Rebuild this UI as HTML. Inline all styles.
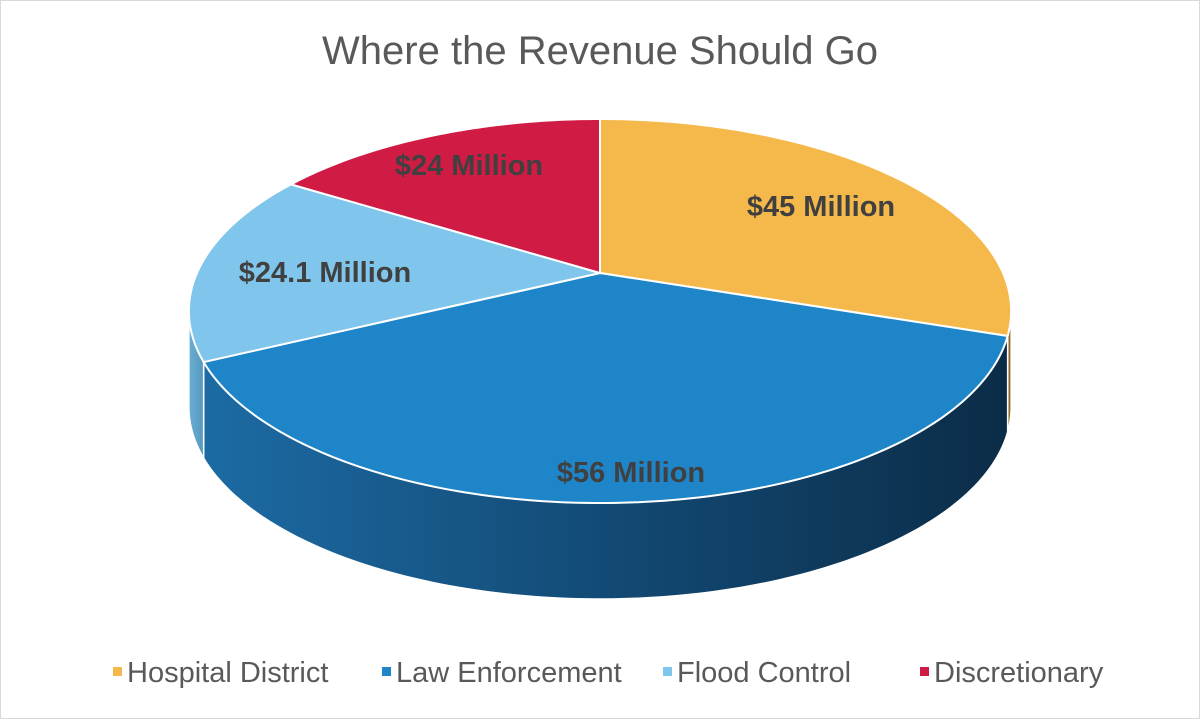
<!DOCTYPE html>
<html><head><meta charset="utf-8"><style>
body{margin:0;background:#fff;}
#c{position:absolute;left:0;top:0;width:1198px;height:717px;border:1px solid #d9d9d9;background:#fff;}
svg{position:absolute;left:0;top:0;}
</style></head><body>
<div id="c">
<svg id="s" width="1200" height="719">
<defs>
<linearGradient id="gLaw" x1="200" x2="1010" y1="0" y2="0" gradientUnits="userSpaceOnUse">
<stop offset="0" stop-color="#1c6ba4"/><stop offset="0.5" stop-color="#134a75"/><stop offset="1" stop-color="#0b2c47"/></linearGradient>
<linearGradient id="gFlood" x1="188" x2="210" y1="0" y2="0" gradientUnits="userSpaceOnUse">
<stop offset="0" stop-color="#6aaed3"/><stop offset="1" stop-color="#4d8db3"/></linearGradient>
<linearGradient id="gHosp" x1="995" x2="1010" y1="0" y2="0" gradientUnits="userSpaceOnUse">
<stop offset="0" stop-color="#b78a36"/><stop offset="1" stop-color="#8a6626"/></linearGradient>
</defs>
<text x="599" y="63" text-anchor="middle" font-family="Liberation Sans, sans-serif" font-size="40" fill="#595959">Where the Revenue Should Go</text>
<g id="pie"></g>
<g id="legend"></g>
</svg>
</div>
<script>
const categories=["Hospital District","Law Enforcement","Flood Control","Discretionary"];
const values=[45,56,24.1,24];
const labels=["$45 Million","$56 Million","$24.1 Million","$24 Million"];
const colors=["#f5b94b","#1e86c8","#80c5ec","#d01b45"];
const sides=["url(#gHosp)","url(#gLaw)","url(#gFlood)","#8a1030"];
const NS="http://www.w3.org/2000/svg";
const cx=599,cy=272,A=403,B=184.5,E=0.198,depth=96;
function pt(t){const r=t*Math.PI/180;const X=Math.sin(r),Y=Math.cos(r);const w=1+E*Y;return [cx+A*X/w, cy-B*Y/w];}
const total=values.reduce((a,b)=>a+b,0);
const pie=document.getElementById('pie');
let cum=0;const angs=[];
values.forEach(v=>{const a0=cum/total*360;cum+=v;angs.push([a0,cum/total*360]);});
const sil=Math.acos(-E)*180/Math.PI;
angs.forEach(([a0,a1],i)=>{
  const s=Math.max(a0,sil),e=Math.min(a1,360-sil);
  if(e<=s)return;
  let top=[],bot=[];
  for(let t=s;t<=e+0.001;t+=1){const p=pt(Math.min(t,e));top.push(p);bot.push([p[0],p[1]+depth]);}
  const pe=pt(e);top.push(pe);bot.push([pe[0],pe[1]+depth]);
  const d="M"+top.map(p=>p.join(",")).join("L")+"L"+bot.reverse().map(p=>p.join(",")).join("L")+"Z";
  const el=document.createElementNS(NS,'path');
  el.setAttribute('d',d);el.setAttribute('fill',sides[i]);el.setAttribute('stroke','#fff');el.setAttribute('stroke-width','1.5');
  
  
  pie.appendChild(el);
});
angs.forEach(([a0,a1],i)=>{
  let pts=[];
  for(let t=a0;t<=a1+0.001;t+=1)pts.push(pt(Math.min(t,a1)));
  pts.push(pt(a1));
  const d="M"+cx+","+cy+"L"+pts.map(p=>p.join(",")).join("L")+"Z";
  const el=document.createElementNS(NS,'path');
  el.setAttribute('d',d);el.setAttribute('fill',colors[i]);el.setAttribute('stroke','#fff');el.setAttribute('stroke-width','2');
  
  
  pie.appendChild(el);
});
const lpos=[[820,215],[630,481],[324,281],[468,174]];
labels.forEach((l,i)=>{
  const t=document.createElementNS(NS,'text');
  t.setAttribute('x',lpos[i][0]);t.setAttribute('y',lpos[i][1]);t.setAttribute('text-anchor','middle');
  t.setAttribute('font-family','Liberation Sans, sans-serif');t.setAttribute('font-size','29');t.setAttribute('font-weight','bold');t.setAttribute('fill','#404040');
  t.textContent=l;
  
  
  pie.appendChild(t);
});
const lg=document.getElementById('legend');
const lx=[112,381,662,919];
categories.forEach((c,i)=>{
  const r=document.createElementNS(NS,'rect');
  r.setAttribute('x',lx[i]);r.setAttribute('y',666);r.setAttribute('width',9);r.setAttribute('height',9);r.setAttribute('fill',colors[i]);
  
  
  lg.appendChild(r);
  const t=document.createElementNS(NS,'text');
  t.setAttribute('x',lx[i]+14);t.setAttribute('y',681);
  t.setAttribute('font-family','Liberation Sans, sans-serif');t.setAttribute('font-size','29');t.setAttribute('fill','#595959');
  t.textContent=c;
  
  
  lg.appendChild(t);
});
</script>
</body></html>
